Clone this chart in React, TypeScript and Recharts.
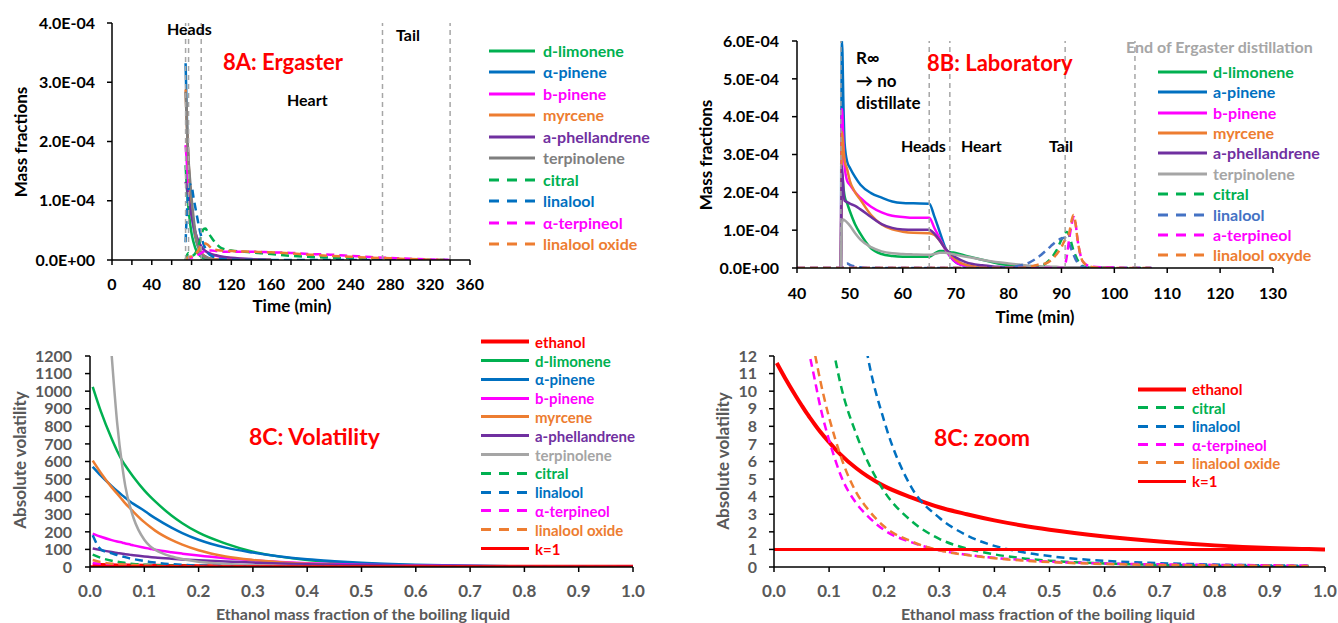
import React from "react";
import { Line, LineChart, ReferenceLine, XAxis, YAxis } from "recharts";

const FONT = "Lato, 'Noto Sans', 'DejaVu Sans', sans-serif";

const GREEN = "#00b050";
const BLUE = "#0070c0";
const MAGENTA = "#ff00ff";
const ORANGE = "#ed7d31";
const PURPLE = "#7030a0";
const GRAY = "#a5a5a5";
const DARK_GRAY = "#7f7f7f";
const LIGHT_BLUE = "#4472c4";
const RED = "#ff0000";
const AXIS_GRAY = "#595959";

// ---- 8A: Ergaster, mass fraction in units of 1E-04, time in min
const timeA = [74, 75, 76, 77, 78, 80, 82, 85, 88, 90, 92, 94, 96, 100, 105, 110, 120, 140, 160, 180, 200, 220, 240, 260, 280, 300, 320, 340];
const limoneneA = [1.6, 1.3, 1.05, 0.85, 0.7, 0.45, 0.3, 0.15, 0.08, 0.05, 0.03, 0.02, 0.015, 0.01, 0.005, 0, 0, 0, 0, null, null, null, null, null, null, null, null, null];
const aPineneA = [3.32, 2.6, 2.0, 1.6, 1.3, 0.85, 0.55, 0.3, 0.17, 0.12, 0.08, 0.06, 0.04, 0.02, 0.01, 0.005, 0, 0, 0, null, null, null, null, null, null, null, null, null];
const bPineneA = [1.94, 1.7, 1.45, 1.25, 1.05, 0.8, 0.6, 0.4, 0.28, 0.22, 0.18, 0.15, 0.13, 0.1, 0.07, 0.05, 0.03, 0.01, 0, null, null, null, null, null, null, null, null, null];
const myrceneA = [2.88, 2.4, 2.0, 1.65, 1.35, 0.9, 0.6, 0.32, 0.18, 0.12, 0.08, 0.05, 0.035, 0.02, 0.01, 0.005, 0, 0, 0, null, null, null, null, null, null, null, null, null];
const phellandreneA = [1.32, 1.25, 1.15, 1.05, 0.95, 0.75, 0.58, 0.4, 0.28, 0.22, 0.18, 0.15, 0.13, 0.1, 0.08, 0.06, 0.04, 0.015, 0, null, null, null, null, null, null, null, null, null];
const terpinoleneA = [2.84, 2.4, 2.0, 1.68, 1.45, 1.05, 0.72, 0.36, 0.17, 0.1, 0.06, 0.04, 0.03, 0.01, 0, 0, 0, 0, 0, null, null, null, null, null, null, null, null, null];
const citralA = [0, 0.06, 0.1, 0.12, 0.1, 0.07, 0.08, 0.15, 0.3, 0.42, 0.52, 0.53, 0.48, 0.38, 0.27, 0.2, 0.16, 0.13, 0.1, 0.07, 0.05, 0.04, 0.03, 0.02, 0.01, 0, 0, 0];
const linaloolA = [0.3, 0.7, 1.0, 1.2, 1.28, 1.25, 1.05, 0.78, 0.52, 0.38, 0.27, 0.19, 0.13, 0.07, 0.03, 0.015, 0.005, 0, 0, 0, 0, 0, 0, 0, 0, 0, 0, 0];
const terpineolA = [0, 0, 0.01, 0.02, 0.03, 0.04, 0.05, 0.07, 0.1, 0.12, 0.14, 0.15, 0.16, 0.16, 0.15, 0.14, 0.14, 0.14, 0.13, 0.12, 0.1, 0.09, 0.07, 0.05, 0.035, 0.02, 0.01, 0];
const oxideA = [0, 0.02, 0.04, 0.05, 0.05, 0.06, 0.08, 0.12, 0.2, 0.25, 0.28, 0.28, 0.26, 0.2, 0.17, 0.16, 0.15, 0.14, 0.13, 0.11, 0.09, 0.07, 0.055, 0.04, 0.03, 0.015, 0.005, 0];
const cutsA = [74, 77, 89.7, 272, 340];

// ---- 8B: Laboratory
const timeB = [40, 48, 48.3, 48.5, 48.8, 49, 49.5, 50, 51, 52, 54, 56, 58, 60, 62, 65, 66, 67, 68, 69, 70, 72, 75, 78, 80, 82, 84, 86, 87, 88, 89, 90, 90.5, 91, 91.5, 92, 92.3, 92.7, 93, 93.5, 94, 95, 96, 98, 100, 104, 107];
const limoneneB = [null, null, 0, 2.5, 2.1, 1.9, 1.7, 1.5, 1.15, 0.9, 0.52, 0.37, 0.32, 0.3, 0.3, 0.3, 0.38, 0.45, 0.45, 0.42, 0.4, 0.32, 0.22, 0.12, 0.08, 0.05, 0.03, 0.015, 0.01, 0.01, 0.005, 0, 0, 0, 0, 0, 0, 0, 0, 0, 0, 0, 0, 0, 0, null, null];
const aPineneB = [null, null, 0, 6.0, 4.2, 3.3, 2.8, 2.65, 2.4, 2.2, 1.98, 1.86, 1.76, 1.72, 1.71, 1.7, 1.35, 0.95, 0.55, 0.3, 0.15, 0.05, 0.01, 0, 0, 0, 0, 0, 0, 0, 0, 0, 0, 0, 0, 0, 0, 0, 0, 0, 0, 0, 0, 0, 0, null, null];
const bPineneB = [null, null, 0, 4.2, 3.2, 2.7, 2.3, 2.2, 2.0, 1.85, 1.62, 1.47, 1.38, 1.35, 1.33, 1.33, 1.05, 0.78, 0.5, 0.3, 0.16, 0.05, 0.01, 0, 0, 0, 0, 0, 0, 0, 0, 0, 0, 0, 0, 0, 0, 0, 0, 0, 0, 0, 0, 0, 0, null, null];
const myrceneB = [null, null, 0, 3.6, 3.1, 2.85, 2.6, 2.3, 2.0, 1.8, 1.4, 1.15, 1.02, 0.96, 0.93, 0.92, 0.87, 0.72, 0.52, 0.36, 0.22, 0.08, 0.02, 0, 0, 0, 0, 0, 0, 0, 0, 0, 0, 0, 0, 0, 0, 0, 0, 0, 0, 0, 0, 0, 0, null, null];
const phellandreneB = [null, null, 0, 2.7, 2.0, 1.78, 1.74, 1.7, 1.64, 1.55, 1.35, 1.16, 1.06, 1.02, 1.01, 1.01, 0.9, 0.72, 0.52, 0.38, 0.28, 0.15, 0.07, 0.03, 0.01, 0, 0, 0, 0, 0, 0, 0, 0, 0, 0, 0, 0, 0, 0, 0, 0, 0, 0, 0, 0, null, null];
const terpinoleneB = [null, null, 0, 1.2, 1.28, 1.26, 1.2, 1.12, 0.92, 0.75, 0.55, 0.44, 0.39, 0.37, 0.36, 0.35, 0.37, 0.4, 0.4, 0.38, 0.35, 0.3, 0.22, 0.15, 0.12, 0.09, 0.06, 0.045, 0.04, 0.035, 0.03, 0.02, 0.02, 0.02, 0.015, 0.015, 0.01, 0.01, 0.01, 0.01, 0.01, 0.005, 0, 0, 0, null, null];
const citralB = [0, 0, 0, 0, 0, 0, 0, 0, 0, 0, 0, 0, 0, 0, 0, 0, 0, 0, 0, 0, 0, 0, 0, 0, 0, 0, 0, 0.05, 0.12, 0.25, 0.45, 0.75, 0.9, 0.95, 0.85, 0.6, 0.45, 0.32, 0.22, 0.12, 0.05, 0.01, 0, 0, 0, 0, 0];
const linaloolB = [0, 0, 0, 0, 0.05, 0.1, 0.12, 0.08, 0.04, 0.02, 0, 0, 0, 0, 0, 0, 0, 0, 0, 0, 0, 0, 0, 0, 0.02, 0.06, 0.15, 0.33, 0.45, 0.58, 0.7, 0.78, 0.8, 0.75, 0.62, 0.45, 0.35, 0.22, 0.15, 0.07, 0.03, 0, 0, 0, 0, 0, 0];
const terpineolB = [0, 0, 0, 0, 0, 0, 0, 0, 0, 0, 0, 0, 0, 0, 0, 0, 0, 0, 0, 0, 0, 0, 0, 0, 0, 0, 0, 0, 0, 0, 0, 0, 0, 0.3, 0.8, 1.2, 1.35, 1.15, 0.8, 0.4, 0.18, 0.06, 0.03, 0.02, 0.01, 0, 0];
const oxideB = [0, 0, 0, 0, 0, 0, 0, 0, 0, 0, 0, 0, 0, 0, 0, 0, 0, 0, 0, 0, 0, 0, 0, 0, 0, 0, 0.03, 0.1, 0.12, 0.2, 0.35, 0.55, 0.7, 0.8, 0.95, 1.3, 1.4, 1.15, 0.8, 0.4, 0.18, 0.06, 0.02, 0, 0, 0, 0];
const cutsB = [48.3, 65, 68.9, 90.7, 103.9];

// ---- 8C: absolute volatility vs ethanol mass fraction of the boiling liquid
const ethanolX = [0, 0.005, 0.02, 0.04, 0.05, 0.06, 0.065, 0.075, 0.08, 0.1, 0.11, 0.12, 0.15, 0.17, 0.2, 0.25, 0.3, 0.35, 0.4, 0.45, 0.5, 0.6, 0.7, 0.8, 0.9, 0.97, 1.0];
const ethanolC = [null, 11.6, 10.75, 9.7, 9.2, 8.72, 8.5, 8.06, 7.85, 7.1, 6.75, 6.42, 5.6, 5.15, 4.6, 3.95, 3.4, 3.0, 2.65, 2.36, 2.12, 1.74, 1.45, 1.23, 1.08, 1.02, 1.0];
const limoneneC = [null, 1025, 885, 729, 660, 601, 577, 533, 512, 436, 403, 373, 293, 249, 195, 133, 87, 59, 40, 28, 20, 9.5, 4.5, 2.2, 1.1, 0.7, 0.6];
const aPineneC = [null, 570, 520, 460, 432, 406, 394, 370, 359, 320, 298, 278, 224, 193, 155, 110, 82, 60, 44, 33, 24, 13, 7, 3.5, 1.8, 1.3, 1];
const bPineneC = [null, 190, 172, 153, 145, 138, 134, 127, 123, 110, 104, 98, 84, 76, 65, 50, 38, 29, 22, 17, 13, 8, 5, 3, 2, 1.5, 1.2];
const myrceneC = [null, 605, 535, 453, 417, 380, 362, 330, 314, 255, 230, 207, 154, 127, 95, 60, 40, 27, 18, 12, 9, 5, 3, 2, 1, 0.7, 0.5];
const phellandreneC = [null, 105, 96, 85, 80, 75, 73, 69, 67, 60, 57, 54, 47, 43, 38, 31, 25, 20, 16, 13, 11, 7, 5, 3.5, 2.5, 2, 1.8];
const terpinoleneC = [null, null, null, 1200, 820, 560, 460, 330, 280, 155, 120, 98, 60, 45, 30, 17, 10, 6, 4, 3, 2, 1, 0.6, 0.4, 0.3, 0.2, null];
const citralC = [null, 70, 52, 36, 30, 25, 23, 19, 17.5, 13.5, 12, 10.5, 7.5, 6, 4.3, 2.6, 1.6, 1.05, 0.72, 0.5, 0.36, 0.2, 0.12, 0.07, 0.04, 0.03, null];
const linaloolC = [null, 180, 100, 78, 68, 60, 56, 48, 45, 34, 29, 25, 16, 12, 8.3, 4.5, 2.8, 1.8, 1.2, 0.85, 0.62, 0.35, 0.22, 0.14, 0.09, 0.07, null];
const terpineolC = [null, 22, 19, 15.5, 14, 12.8, 12, 10.5, 9.7, 7.2, 6.2, 5.3, 3.6, 2.9, 2.1, 1.4, 0.95, 0.7, 0.52, 0.4, 0.3, 0.2, 0.15, 0.12, 0.1, 0.08, null];
const oxideC = [null, 40, 28, 19, 16.5, 14.5, 13.5, 12, 11.2, 8.5, 7.4, 6.4, 4.2, 3.3, 2.3, 1.45, 0.95, 0.68, 0.5, 0.37, 0.28, 0.17, 0.12, 0.09, 0.07, 0.06, null];
const kOne = [1, 1, 1, 1, 1, 1, 1, 1, 1, 1, 1, 1, 1, 1, 1, 1, 1, 1, 1, 1, 1, 1, 1, 1, 1, 1, 1];

// ---- ticks
const ticksTimeA = [0, 20, 40, 60, 80, 100, 120, 140, 160, 180, 200, 220, 240, 260, 280, 300, 320, 340, 360];
const ticksTimeB = [40, 50, 60, 70, 80, 90, 100, 110, 120, 130];
const ticksMassA = [0, 1, 2, 3, 4];
const ticksMassB = [0, 1, 2, 3, 4, 5, 6];
const ticksFraction = [0, 0.1, 0.2, 0.3, 0.4, 0.5, 0.6, 0.7, 0.8, 0.9, 1.0];
const ticksVolatility = [0, 100, 200, 300, 400, 500, 600, 700, 800, 900, 1000, 1100, 1200];
const ticksZoom = [0, 1, 2, 3, 4, 5, 6, 7, 8, 9, 10, 11, 12];

type Series = {
  key: string;
  name: string;
  color: string;
  values: (number | null)[];
  dashed?: boolean;
  width?: number;
};

const seriesA: Series[] = [
  { key: "limonene", name: "d-limonene", color: GREEN, values: limoneneA },
  { key: "aPinene", name: "α-pinene", color: BLUE, values: aPineneA },
  { key: "bPinene", name: "b-pinene", color: MAGENTA, values: bPineneA },
  { key: "myrcene", name: "myrcene", color: ORANGE, values: myrceneA },
  { key: "phell", name: "a-phellandrene", color: PURPLE, values: phellandreneA },
  { key: "terpinolene", name: "terpinolene", color: DARK_GRAY, values: terpinoleneA },
  { key: "citral", name: "citral", color: GREEN, values: citralA, dashed: true },
  { key: "linalool", name: "linalool", color: BLUE, values: linaloolA, dashed: true },
  { key: "terpineol", name: "α-terpineol", color: MAGENTA, values: terpineolA, dashed: true },
  { key: "oxide", name: "linalool oxide", color: ORANGE, values: oxideA, dashed: true },
];

const seriesB: Series[] = [
  { key: "limonene", name: "d-limonene", color: GREEN, values: limoneneB },
  { key: "aPinene", name: "a-pinene", color: BLUE, values: aPineneB },
  { key: "bPinene", name: "b-pinene", color: MAGENTA, values: bPineneB },
  { key: "myrcene", name: "myrcene", color: ORANGE, values: myrceneB },
  { key: "phell", name: "a-phellandrene", color: PURPLE, values: phellandreneB },
  { key: "terpinolene", name: "terpinolene", color: GRAY, values: terpinoleneB },
  { key: "citral", name: "citral", color: GREEN, values: citralB, dashed: true },
  { key: "linalool", name: "linalool", color: LIGHT_BLUE, values: linaloolB, dashed: true },
  { key: "terpineol", name: "a-terpineol", color: MAGENTA, values: terpineolB, dashed: true },
  { key: "oxide", name: "linalool oxyde", color: ORANGE, values: oxideB, dashed: true },
];

const ethanol: Series = { key: "ethanol", name: "ethanol", color: RED, values: ethanolC, width: 4 };
const citral: Series = { key: "citral", name: "citral", color: GREEN, values: citralC, dashed: true };
const linalool: Series = { key: "linalool", name: "linalool", color: BLUE, values: linaloolC, dashed: true };
const terpineol: Series = { key: "terpineol", name: "α-terpineol", color: MAGENTA, values: terpineolC, dashed: true };
const oxide: Series = { key: "oxide", name: "linalool oxide", color: ORANGE, values: oxideC, dashed: true };
const kLine: Series = { key: "k1", name: "k=1", color: RED, values: kOne, width: 3 };

const seriesC: Series[] = [
  ethanol,
  { key: "limonene", name: "d-limonene", color: GREEN, values: limoneneC },
  { key: "aPinene", name: "α-pinene", color: BLUE, values: aPineneC },
  { key: "bPinene", name: "b-pinene", color: MAGENTA, values: bPineneC },
  { key: "myrcene", name: "myrcene", color: ORANGE, values: myrceneC },
  { key: "phell", name: "a-phellandrene", color: PURPLE, values: phellandreneC },
  { key: "terpinolene", name: "terpinolene", color: GRAY, values: terpinoleneC },
  citral,
  linalool,
  terpineol,
  oxide,
  kLine,
];

const seriesZoom: Series[] = [ethanol, citral, linalool, terpineol, oxide, kLine];

const massFormat = (v: number) => (v === 0 ? "0.0E+00" : `${v.toFixed(1)}E-04`);

type PanelProps = {
  left: number;
  top: number;
  width: number;
  height: number;
  margin: { top: number; right: number; bottom: number; left: number };
  xs: number[];
  series: Series[];
  xDomain: [number, number];
  xTicks: number[];
  xFormat: (v: number) => string;
  yDomain: [number, number];
  yTicks: number[];
  yFormat: (v: number) => string;
  yWidth: number;
  tickColor: string;
  xFontSize?: number;
  xTickMargin: number;
  yTickMargin: number;
  cuts?: number[];
};

function Panel(p: PanelProps) {
  const rows = p.xs.map((xv, i) => {
    const row: Record<string, number | null> = { x: xv };
    p.series.forEach((s) => {
      row[s.key] = s.values[i];
    });
    return row;
  });
  const yTick = { fill: p.tickColor, fontSize: 16, fontWeight: 700, fontFamily: FONT };
  const xTick = { ...yTick, fontSize: p.xFontSize ?? 16 };
  return (
    <div style={{ position: "absolute", left: p.left, top: p.top }}>
      <LineChart width={p.width} height={p.height} data={rows} margin={p.margin}>
        <XAxis
          dataKey="x"
          type="number"
          domain={p.xDomain}
          ticks={p.xTicks}
          interval={0}
          tickFormatter={p.xFormat}
          tick={xTick}
          tickSize={5}
          tickMargin={p.xTickMargin}
          height={30}
          stroke="#000"
          strokeWidth={1.5}
          allowDataOverflow
        />
        <YAxis
          type="number"
          domain={p.yDomain}
          ticks={p.yTicks}
          interval={0}
          tickFormatter={p.yFormat}
          tick={yTick}
          tickSize={5}
          tickMargin={p.yTickMargin}
          width={p.yWidth}
          stroke="#000"
          strokeWidth={1.5}
          allowDataOverflow
        />
        {p.series.map((s) => (
          <Line
            key={s.key}
            type="monotone"
            dataKey={s.key}
            stroke={s.color}
            strokeWidth={s.width ?? 2.5}
            strokeDasharray={s.dashed ? "8 5" : undefined}
            dot={false}
            activeDot={false}
            connectNulls
            isAnimationActive={false}
          />
        ))}
        {(p.cuts ?? []).map((c) => (
          <ReferenceLine key={c} x={c} stroke="#a6a6a6" strokeWidth={1.5} strokeDasharray="5 4" />
        ))}
      </LineChart>
    </div>
  );
}

function Txt({
  x,
  y,
  children,
  size = 16,
  color = "#000",
  middle = false,
  rotate = false,
}: {
  x: number;
  y: number;
  children: React.ReactNode;
  size?: number;
  color?: string;
  middle?: boolean;
  rotate?: boolean;
}) {
  const transform = rotate
    ? "translate(-50%, -50%) rotate(-90deg)"
    : middle
      ? "translate(-50%, -50%)"
      : "translateY(-50%)";
  return (
    <div
      style={{
        position: "absolute",
        left: x,
        top: y,
        transform,
        fontSize: size,
        fontWeight: 700,
        color,
        whiteSpace: "nowrap",
        lineHeight: 1,
      }}
    >
      {children}
    </div>
  );
}

function Key({
  items,
  left,
  top,
  step,
  lineWidth,
  gap,
  size,
}: {
  items: Series[];
  left: number;
  top: number;
  step: number;
  lineWidth: number;
  gap: number;
  size: number;
}) {
  return (
    <>
      {items.map((it, i) => (
        <div
          key={it.key}
          style={{
            position: "absolute",
            left,
            top: top + i * step,
            transform: "translateY(-50%)",
            display: "flex",
            alignItems: "center",
            whiteSpace: "nowrap",
          }}
        >
          <svg width={lineWidth} height={6} style={{ display: "block" }}>
            <line
              x1={0}
              y1={3}
              x2={lineWidth}
              y2={3}
              stroke={it.color}
              strokeWidth={it.width ? Math.min(it.width, 4) : 3}
              strokeDasharray={it.dashed ? "10 8" : undefined}
            />
          </svg>
          <span style={{ marginLeft: gap, color: it.color, fontSize: size, fontWeight: 700, lineHeight: 1 }}>
            {it.name}
          </span>
        </div>
      ))}
    </>
  );
}

export default function App() {
  return (
    <div
      style={{
        position: "absolute",
        left: 0,
        top: 0,
        width: 1338,
        height: 623,
        background: "#fff",
        fontFamily: FONT,
        overflow: "hidden",
      }}
    >
      {/* 8A */}
      <Panel
        left={0}
        top={0}
        width={500}
        height={320}
        margin={{ top: 23, right: 30, bottom: 30, left: 12 }}
        xs={timeA}
        series={seriesA}
        xDomain={[0, 360]}
        xTicks={ticksTimeA}
        xFormat={(v) => (v % 40 === 0 ? String(v) : "")}
        yDomain={[0, 4]}
        yTicks={ticksMassA}
        yFormat={massFormat}
        yWidth={100}
        tickColor="#000"
        xTickMargin={14}
        yTickMargin={12}
        cuts={cutsA}
      />
      <Txt x={20} y={142} size={17} rotate>Mass fractions</Txt>
      <Txt x={292} y={305} size={17} middle>Time (min)</Txt>
      <Txt x={167} y={29}>Heads</Txt>
      <Txt x={287} y={100}>Heart</Txt>
      <Txt x={396} y={35}>Tail</Txt>
      <Txt x={223} y={62} size={22} color={RED}>8A: Ergaster</Txt>
      <Key items={seriesA} left={489} top={50.7} step={21.5} lineWidth={46} gap={8} size={16} />

      {/* 8B */}
      <Panel
        left={690}
        top={0}
        width={610}
        height={325}
        margin={{ top: 41, right: 27, bottom: 27, left: 7 }}
        xs={timeB}
        series={seriesB}
        xDomain={[40, 130]}
        xTicks={ticksTimeB}
        xFormat={(v) => String(v)}
        yDomain={[0, 6]}
        yTicks={ticksMassB}
        yFormat={massFormat}
        yWidth={100}
        tickColor="#000"
        xTickMargin={15}
        yTickMargin={13}
        cuts={cutsB}
      />
      <Txt x={705} y={155} size={17} rotate>Mass fractions</Txt>
      <Txt x={1035} y={316} size={17} middle>Time (min)</Txt>
      <Txt x={856} y={57} size={17}>R∞</Txt>
      <Txt x={856} y={80} size={17}>→ no</Txt>
      <Txt x={856} y={102} size={17}>distillate</Txt>
      <Txt x={901} y={146}>Heads</Txt>
      <Txt x={961} y={146}>Heart</Txt>
      <Txt x={1049} y={146}>Tail</Txt>
      <Txt x={927} y={63} size={22} color={RED}>8B: Laboratory</Txt>
      <Txt x={1126} y={47} color="#a6a6a6">End of Ergaster distillation</Txt>
      <Key items={seriesB} left={1158} top={71.7} step={20.4} lineWidth={49} gap={6} size={16} />

      {/* 8C */}
      <Panel
        left={0}
        top={330}
        width={680}
        height={285}
        margin={{ top: 26, right: 47, bottom: 18, left: 10 }}
        xs={ethanolX}
        series={seriesC}
        xDomain={[0, 1]}
        xTicks={ticksFraction}
        xFormat={(v) => v.toFixed(1)}
        yDomain={[0, 1200]}
        yTicks={ticksVolatility}
        yFormat={(v) => String(v)}
        yWidth={80}
        tickColor={AXIS_GRAY}
        xFontSize={17}
        xTickMargin={13}
        yTickMargin={13}
      />
      <Txt x={19} y={460} size={17} rotate color={AXIS_GRAY}>Absolute volatility</Txt>
      <Txt x={363} y={614} middle color={AXIS_GRAY}>Ethanol mass fraction of the boiling liquid</Txt>
      <Txt x={249} y={436} size={23} color={RED}>8C: Volatility</Txt>
      <Key items={seriesC} left={481} top={341.7} step={18.8} lineWidth={48} gap={6} size={15} />

      {/* 8C zoom */}
      <Panel
        left={690}
        top={330}
        width={648}
        height={285}
        margin={{ top: 26, right: 13, bottom: 18, left: 14 }}
        xs={ethanolX}
        series={seriesZoom}
        xDomain={[0, 1]}
        xTicks={ticksFraction}
        xFormat={(v) => v.toFixed(1)}
        yDomain={[0, 12]}
        yTicks={ticksZoom}
        yFormat={(v) => String(v)}
        yWidth={70}
        tickColor={AXIS_GRAY}
        xFontSize={17}
        xTickMargin={13}
        yTickMargin={12}
      />
      <Txt x={722} y={461} size={17} rotate color={AXIS_GRAY}>Absolute volatility</Txt>
      <Txt x={1048} y={614} middle color={AXIS_GRAY}>Ethanol mass fraction of the boiling liquid</Txt>
      <Txt x={934} y={437} size={23} color={RED}>8C: zoom</Txt>
      <Key items={seriesZoom} left={1138} top={389.3} step={18.4} lineWidth={48} gap={6} size={15} />
    </div>
  );
}
